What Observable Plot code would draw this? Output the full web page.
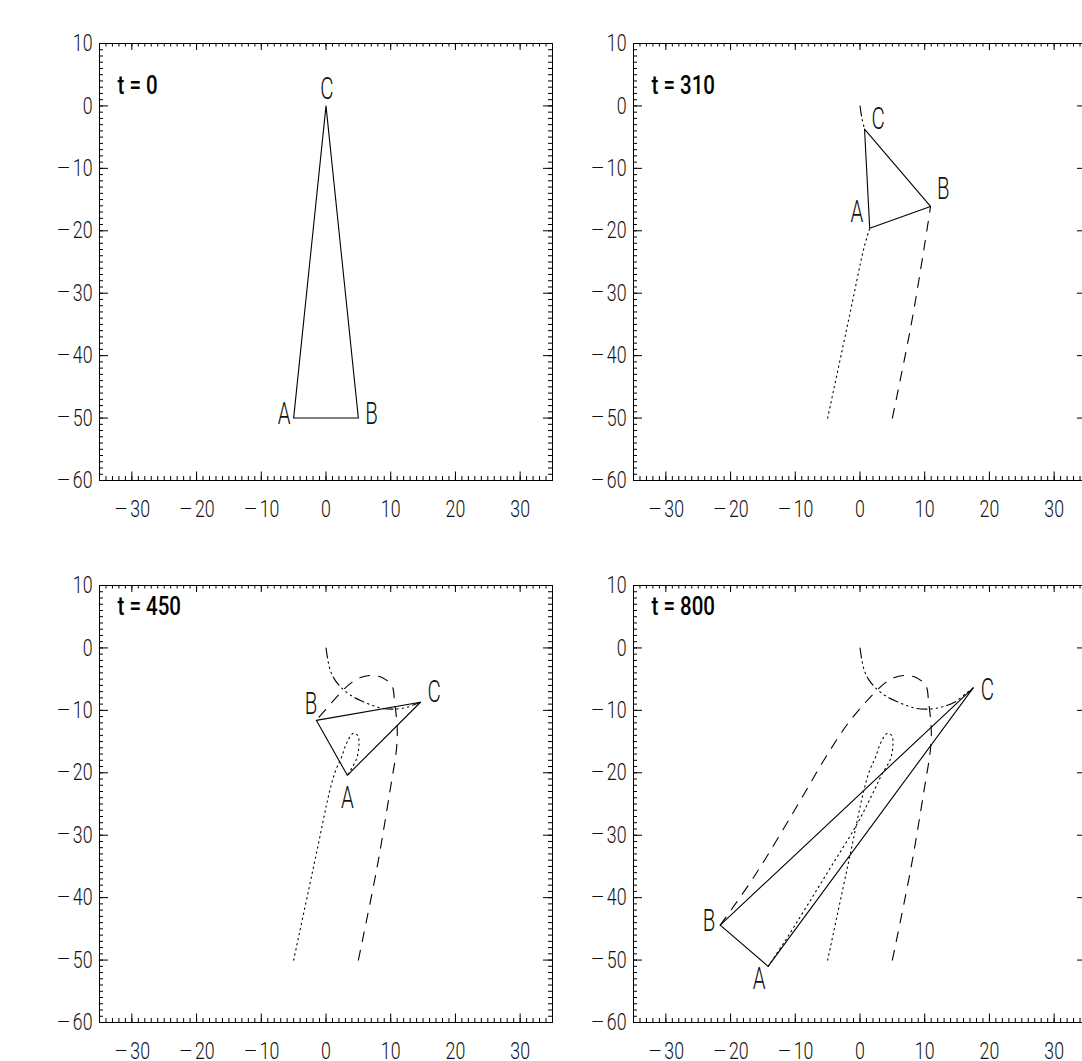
<!DOCTYPE html>
<html><head><meta charset="utf-8">
<script src="https://cdn.jsdelivr.net/npm/d3@7"></script>
<script src="https://cdn.jsdelivr.net/npm/@observablehq/plot@0.6"></script>
<style>
html,body{margin:0;padding:0;background:#fff;}
#wrap{position:relative;width:1082px;height:1061px;overflow:hidden;background:#fff;}
.panel{position:absolute;}
.panel svg{max-width:none !important;}
</style></head><body><div id="wrap"></div>
<script>
// ---- data ----
const times = [0, 310, 450, 800];
const vertexA = [[-5, -50], [1.5, -19.6], [3.3, -20.4], [-14.2, -51.0]];
const vertexB = [[5, -50], [10.9, -16.1], [-1.5, -11.6], [-21.6, -44.4]];
const vertexC = [[0, 0], [0.7, -3.7], [14.6, -8.7], [17.5, -6.4]];
// trajectories: [x, y, first panel time in which the point is reached]
const pathA = [[-5,-50,0],[-1.6,-33.5,310],[0.6,-22.8,310],[1.5,-19.6,310],
  [2.4,-17.5,450],[3.2,-15.2,450],[4.2,-13.7,450],[4.9,-14.0,450],[5.1,-15.3,450],[4.7,-17.8,450],[3.3,-20.4,450],
  [2.3,-22.6,800],[-0.4,-28.1,800],[-5.1,-36.1,800],[-11.8,-47.3,800],[-14.2,-51.0,800]];
const pathB = [[5,-50,0],[7.9,-35.1,310],[9.9,-22.8,310],[10.9,-16.1,310],
  [11.0,-12.7,450],[10.6,-8.7,450],[10.2,-6.1,450],[8.8,-4.8,450],[7.2,-4.4,450],[5.2,-4.8,450],[3.9,-5.6,450],[2.7,-6.7,450],[-1.5,-11.6,450],
  [-5.3,-17.5,800],[-9.2,-24.4,800],[-16.4,-36.7,800],[-21.6,-44.4,800]];
const pathC = [[0,0,0],[0.3,-2.0,310],[0.7,-3.7,310],
  [1.3,-5.0,450],[2.4,-6.4,450],[4.3,-7.9,450],[5.7,-8.6,450],[7.4,-9.3,450],[8.8,-9.7,450],[10.5,-9.8,450],[12.5,-9.5,450],[14.6,-8.7,450],
  [16.6,-7.1,800],[17.5,-6.4,800]];
const xTicks = [-30, -20, -10, 0, 10, 20, 30];
const yTicks = [-60, -50, -40, -30, -20, -10, 0, 10];
const vertexNames = ["A", "B", "C"];

// ---- layout / style ----
const xDomain = [-35, 35], yDomain = [-60, 10];
const xMinor = d3.range(xDomain[0], xDomain[1] + 1);
const yMinor = d3.range(yDomain[0], yDomain[1] + 1);
const M = {left: 99, top: 43, right: 12, bottom: 60};
const innerW = 453, innerH = 437;
const panelPos = [[0, 0], [534, 0], [0, 542], [534, 542]];
const titleDy = [42.5, 42.5, 21, 21];
const labelLayout = [
  {A: ["end", -3, -4.5], B: ["start", 7, -4.5], C: ["middle", 1, -17]},
  {A: ["end", -6.5, -17], B: ["start", 6.5, -17.5], C: ["start", 7, -10]},
  {A: ["middle", 0, 22], B: ["end", 1, -16.5], C: ["start", 7, -10]},
  {A: ["middle", -9, 12], B: ["end", -5, -4], C: ["start", 7.5, 1.5]}
];
const thinFont = "Roboto, 'Open Sans', 'DejaVu Sans', sans-serif";
const fmt = d => d < 0 ? "\u2212" + (-d) : String(d);

function panel(i) {
  const t = times[i];
  const verts = [vertexA[i], vertexB[i], vertexC[i]].map(([x, y], k) => ({x, y, name: vertexNames[k]}));
  const tri = [...verts, verts[0]];
  const sub = p => p.filter(d => d[2] <= t).map(([x, y]) => ({x, y}));
  const marks = [
    Plot.frame({stroke: "black", strokeWidth: 1}),
    Plot.tickX(xMinor, {x: d => d, insetTop: innerH - 4, stroke: "black"}),
    Plot.tickX(xTicks, {x: d => d, insetTop: innerH - 8.5, stroke: "black"}),
    Plot.tickX(xMinor, {x: d => d, insetBottom: innerH - 3.5, stroke: "black"}),
    Plot.tickX(xTicks, {x: d => d, insetBottom: innerH - 7, stroke: "black"}),
    Plot.tickY(yMinor, {y: d => d, insetRight: innerW - 4, stroke: "black"}),
    Plot.tickY(yTicks, {y: d => d, insetRight: innerW - 9, stroke: "black"}),
    Plot.tickY(yMinor, {y: d => d, insetLeft: innerW - 4, stroke: "black"}),
    Plot.tickY(yTicks, {y: d => d, insetLeft: innerW - 9, stroke: "black"}),
  ];
  if (t > 0) {
    marks.push(
      Plot.line(sub(pathA), {x: "x", y: "y", curve: "catmull-rom", stroke: "black", strokeWidth: 1.1, strokeDasharray: "1.4 3.8"}),
      Plot.line(sub(pathB), {x: "x", y: "y", curve: "catmull-rom", stroke: "black", strokeWidth: 1.1, strokeDasharray: "10 9"}),
      Plot.line(sub(pathC), {x: "x", y: "y", curve: "catmull-rom", stroke: "black", strokeWidth: 1.1, strokeDasharray: "10 4 1.4 4 1.4 4 1.4 4"})
    );
  }
  marks.push(Plot.line(tri, {x: "x", y: "y", stroke: "black", strokeWidth: 1.1}));
  for (const v of verts) {
    const [anchor, dx, dy] = labelLayout[i][v.name];
    marks.push(Plot.text([v], {x: "x", y: "y", text: "name", textAnchor: anchor, lineAnchor: "middle",
      dx, dy, fontSize: 32, fontWeight: 300, fill: "#111"}));
  }
  marks.push(Plot.text([`t = ${t}`], {text: d => d, frameAnchor: "top-left", textAnchor: "start", lineAnchor: "middle",
    dx: 18, dy: titleDy[i], fontSize: 25, fontWeight: 500, fontFamily: "Roboto, 'Liberation Sans', Arial, sans-serif", fill: "black"}));

  return Plot.plot({
    width: M.left + innerW + M.right,
    height: M.top + innerH + M.bottom,
    marginLeft: M.left, marginRight: M.right, marginTop: M.top, marginBottom: M.bottom,
    x: {domain: xDomain, ticks: xTicks, tickSize: 0, tickPadding: 19.5, tickFormat: fmt, label: null},
    y: {domain: yDomain, ticks: yTicks, tickSize: 0, tickPadding: 7, tickFormat: fmt, label: null},
    style: {fontFamily: thinFont, fontSize: "24px", fontWeight: 300, background: "transparent", color: "#111", overflow: "visible"},
    marks
  });
}

// narrow the glyphs horizontally and draw a long thin minus, like the stroke font of the original
const SVGNS = "http://www.w3.org/2000/svg";
function condense(svg) {
  svg.querySelectorAll("text").forEach(el => {
    const s = el.textContent;
    if (s.startsWith("\u2212") && el.childNodes.length === 1) {
      el.textContent = "";
      const m = document.createElementNS(SVGNS, "tspan");
      m.setAttribute("font-size", "35");
      m.setAttribute("font-weight", "100");
      m.setAttribute("dy", "3.5");
      m.textContent = "\u2212";
      const r = document.createElementNS(SVGNS, "tspan");
      r.setAttribute("dy", "-3.5");
      r.textContent = "\u200A" + s.slice(1);
      el.appendChild(m);
      el.appendChild(r);
    }
    const f = /^[ABC]$/.test(s) ? 0.64 : s.startsWith("t =") ? 0.82 : 0.74;
    const tr = el.getAttribute("transform");
    if (tr && /translate/.test(tr)) {
      el.setAttribute("transform", `${tr} scale(${f},1)`);
    } else {
      const len = el.getComputedTextLength();
      if (len > 0) {
        el.setAttribute("textLength", (len * f).toFixed(2));
        el.setAttribute("lengthAdjust", "spacingAndGlyphs");
      }
    }
  });
}

const wrap = document.getElementById("wrap");
times.forEach((t, i) => {
  const div = document.createElement("div");
  div.className = "panel";
  div.style.left = panelPos[i][0] + "px";
  div.style.top = panelPos[i][1] + "px";
  const svg = panel(i);
  div.appendChild(svg);
  wrap.appendChild(div);
  condense(svg);
});
</script>
</body></html>
